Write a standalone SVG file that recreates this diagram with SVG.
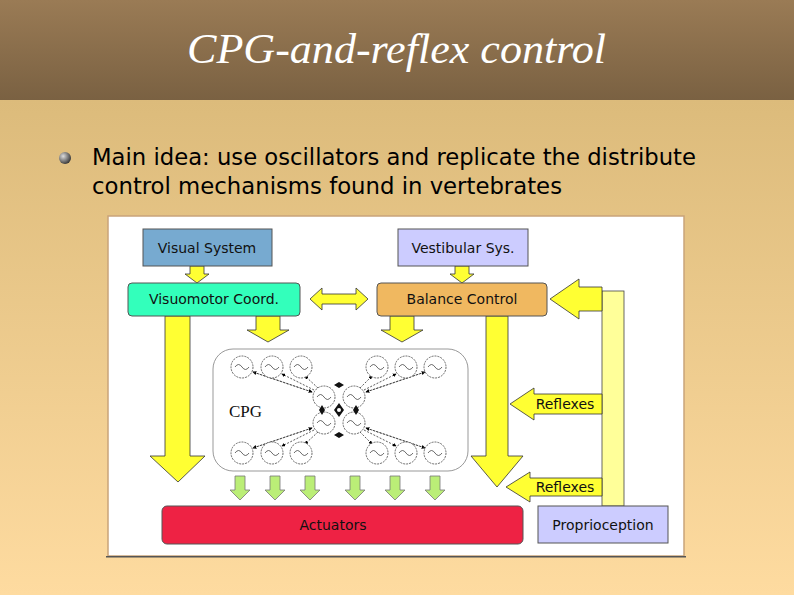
<svg xmlns="http://www.w3.org/2000/svg" width="794" height="595" viewBox="0 0 794 595">
<defs>
<linearGradient id="hd" x1="0" y1="0" x2="0" y2="1"><stop offset="0" stop-color="#9a7b55"/><stop offset="1" stop-color="#7a6142"/></linearGradient>
<linearGradient id="bd" x1="0" y1="0" x2="0" y2="1"><stop offset="0" stop-color="#dcbb7b"/><stop offset="1" stop-color="#fedba0"/></linearGradient>
<radialGradient id="bl" cx="0.35" cy="0.35" r="0.7"><stop offset="0" stop-color="#ddd"/><stop offset="1" stop-color="#333"/></radialGradient>
<marker id="m" viewBox="0 0 6 6" refX="5" refY="3" markerWidth="5" markerHeight="5" orient="auto"><path d="M0,0L6,3L0,6z" fill="#000"/></marker>
<g id="osc"><circle r="11" fill="#fff" stroke="#444" stroke-width="0.8" stroke-dasharray="2,1"/><path d="M-7,0 q3.5,-5 7,0 t7,0" fill="none" stroke="#444" stroke-width="0.8"/></g>
</defs>
<style>
.t{font-family:"DejaVu Sans",sans-serif;font-size:14px;fill:#111;text-anchor:middle}
.y{fill:#ffff33;stroke:#333;stroke-width:0.8}
.g{fill:#bbee77;stroke:#777;stroke-width:0.8}
.d{stroke:#333;stroke-width:0.8;stroke-dasharray:2,1.5;fill:none;marker-end:url(#m)}
</style>
<rect width="794" height="100" fill="url(#hd)"/>
<rect y="100" width="794" height="495" fill="url(#bd)"/>
<text x="187" y="63" font-family="Liberation Serif,serif" font-style="italic" font-size="42" fill="#fff" textLength="419" lengthAdjust="spacingAndGlyphs">CPG-and-reflex control</text>
<circle cx="65" cy="158" r="6" fill="url(#bl)"/>
<text font-family="Liberation Sans Narrow,DejaVu Sans Condensed,sans-serif" font-size="23" fill="#000"><tspan x="92" y="165" textLength="604" lengthAdjust="spacingAndGlyphs">Main idea: use oscillators and replicate the distribute</tspan><tspan x="92" y="194" textLength="470" lengthAdjust="spacingAndGlyphs">control mechanisms found in vertebrates</tspan></text>
<rect x="108" y="216" width="576" height="340" fill="#fff" stroke="#c9a47a" stroke-width="1.5"/>
<rect x="106" y="556" width="580" height="1.5" fill="#555"/>
<g id="connectors">
<path class="y" d="M190,266h14v8h5l-12,9l-12,-9h5z"/>
<path class="y" d="M455,266h14v8h5l-12,9l-12,-9h5z"/>
<path class="y" d="M310,299l12,-11v6h34v-6l12,11l-12,11v-6h-34v6z"/>
<path class="y" d="M165,316h25v140h15l-27,26l-28,-26h15z"/>
<path class="y" d="M256,316h24v14h9l-21,12l-21,-12h9z"/>
<path class="y" d="M390,316h24v14h9l-21,12l-21,-12h9z"/>
<path class="y" d="M486,316h22v140h15l-26,31l-26,-31h15z"/>
<rect x="602" y="291" width="22" height="215" fill="#ffff99" stroke="#444" stroke-width="0.8"/>
<path class="y" d="M602,287h-23v-8l-29,20l29,20v-8h23z"/>
<path class="y" d="M602,394h-68v-6l-24,16l24,16v-6h68z"/>
<path class="y" d="M602,478h-72v-6l-24,15l24,15v-6h72z"/>
<g>
<path class="g" d="M235,476h10v14h5l-10,10l-10,-10h5z"/>
<path class="g" d="M270,476h10v14h5l-10,10l-10,-10h5z"/>
<path class="g" d="M305,476h10v14h5l-10,10l-10,-10h5z"/>
<path class="g" d="M350,476h10v14h5l-10,10l-10,-10h5z"/>
<path class="g" d="M390,476h10v14h5l-10,10l-10,-10h5z"/>
<path class="g" d="M430,476h10v14h5l-10,10l-10,-10h5z"/>
</g>
</g>
<g id="visual"><rect x="143" y="229" width="129" height="37" fill="#77aad0" stroke="#555"/><text class="t" x="207" y="253">Visual System</text></g>
<g id="vestibular"><rect x="398" y="229" width="130" height="37" fill="#ccccff" stroke="#555"/><text class="t" x="463" y="253">Vestibular Sys.</text></g>
<g id="visuomotor"><rect x="128" y="283" width="172" height="33" rx="4" fill="#33ffbb" stroke="#555"/><text class="t" x="214" y="304">Visuomotor Coord.</text></g>
<g id="balance"><rect x="377" y="283" width="170" height="33" rx="4" fill="#f0b860" stroke="#555"/><text class="t" x="462" y="304">Balance Control</text></g>
<g id="cpg">
<rect x="213" y="349" width="255" height="122" rx="20" fill="#fff" stroke="#999" stroke-width="1"/>
<text x="229" y="417" font-family="Liberation Serif,serif" font-size="17" fill="#111">CPG</text>
<g>
<path class="d" d="M312,392L253,372"/><path class="d" d="M314,390L282,374"/><path class="d" d="M318,388L305,376"/>
<path class="d" d="M366,392L425,372"/><path class="d" d="M364,390L396,374"/><path class="d" d="M360,388L372,376"/>
<path class="d" d="M312,428L253,448"/><path class="d" d="M314,430L282,446"/><path class="d" d="M318,432L305,444"/>
<path class="d" d="M366,428L425,448"/><path class="d" d="M364,430L396,446"/><path class="d" d="M360,432L372,444"/>
<path class="d" d="M253,372L312,392"/><path class="d" d="M425,372L366,392"/><path class="d" d="M253,448L312,428"/><path class="d" d="M425,448L366,428"/>
</g>
<use href="#osc" x="242" y="367"/><use href="#osc" x="272" y="367"/><use href="#osc" x="301" y="367"/>
<use href="#osc" x="377" y="367"/><use href="#osc" x="406" y="367"/><use href="#osc" x="435" y="367"/>
<use href="#osc" x="242" y="453"/><use href="#osc" x="272" y="453"/><use href="#osc" x="301" y="453"/>
<use href="#osc" x="377" y="453"/><use href="#osc" x="406" y="453"/><use href="#osc" x="435" y="453"/>
<use href="#osc" x="324" y="397"/><use href="#osc" x="354" y="397"/><use href="#osc" x="324" y="423"/><use href="#osc" x="354" y="423"/>
<path d="M339,403l-5,7l5,7l5,-7z M319,410l3,-5l3,5l-3,5z M353,410l3,-5l3,5l-3,5z M334,385l5,-3v6z M344,385l-5,-3v6z M334,435l5,-3v6z M344,435l-5,-3v6z" fill="#111"/>
<circle cx="339" cy="410" r="2" fill="#fff"/>
</g>
<g id="reflex1"><text class="t" x="565" y="409" font-size="13">Reflexes</text></g>
<g id="reflex2"><text class="t" x="565" y="492" font-size="13">Reflexes</text></g>
<g id="actuators"><rect x="162" y="506" width="361" height="38" rx="5" fill="#ee2244" stroke="#555"/><text class="t" x="333" y="530">Actuators</text></g>
<g id="proprio"><rect x="538" y="506" width="130" height="37" fill="#ccccff" stroke="#555"/><text class="t" x="603" y="530">Proprioception</text></g>
</svg>
